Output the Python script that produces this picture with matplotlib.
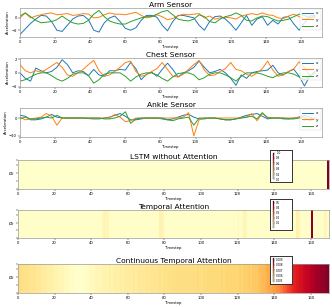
import matplotlib

matplotlib.use("Agg")
import matplotlib.pyplot as plt
import numpy as np

# sampled timesteps for the sensor traces
timesteps = [0, 3, 6, 9, 12, 15, 18, 21, 24, 27, 30, 33, 36, 39, 42, 45, 48, 51, 54,
             57, 60, 63, 66, 69, 72, 75, 78, 81, 84, 87, 90, 93, 96, 99, 102, 105, 108,
             111, 114, 117, 120, 123, 126, 129, 132, 135, 138, 141, 144, 147, 150, 153,
             156, 159, 162, 165, 168]

arm_x = [-2.7, -1.8, -0.9, -0.2, 0.4, 0.3, -0.6, -2.0, -2.2, -1.2, -0.2, 0.3, 0.4, -0.3,
         -2.0, -2.3, -0.8, 0.0, 0.3, -0.6, -1.7, -2.0, -1.6, -0.4, 0.4, 0.4, 0.1, -1.2,
         -2.1, -0.6, 0.4, 0.4, 0.2, 0.0, -1.2, -2.0, -0.6, 0.2, 0.3, -0.2, -1.0, -2.0,
         -0.8, 0.4, -1.2, -0.2, 0.2, -1.2, -0.4, -1.0, 0.1, 0.2, -1.0, -2.0, -0.8, 0.3, 0.4]
arm_y = [0.0, 0.8, 0.0, 0.3, 0.5, 0.7, 0.8, 0.5, 0.6, 0.7, 0.4, 0.5, 0.7, 0.6, 0.0, 0.1,
         0.5, 0.8, 0.6, 0.6, 0.5, 0.7, 0.9, 0.4, 0.0, 0.2, 0.5, 0.2, -0.3, -0.1, 0.3, 0.6,
         0.5, 0.6, 0.7, 0.0, 0.3, -0.2, 0.0, 0.1, 0.0, -0.2, 0.3, 0.5, 0.7, 0.5, 0.8, 0.5,
         0.4, 0.0, -0.1, 0.3, 0.6, 0.2, -0.2, 0.0, 0.2]
arm_z = [0.3, 0.8, 0.2, -0.4, -0.8, -0.7, -0.6, -0.3, 0.3, -0.3, -0.8, -1.0, -0.9, -0.4,
         0.6, 1.2, 0.2, -0.5, -0.8, -1.0, -1.0, -0.6, -0.3, 0.0, 0.2, 0.2, 0.6, 1.0, 1.2,
         0.5, -0.2, -0.4, -0.5, -0.2, 0.5, 0.2, -0.6, -0.8, -0.2, 0.2, 0.4, 0.8, 0.4, -0.4,
         -0.5, 0.0, 0.3, 0.2, -0.2, -0.5, -0.4, -0.2, 0.2, 0.6, 0.4, 0.0, 0.2]

chest_x = [0.0, -0.8, -1.2, 0.7, 0.3, 0.0, 0.2, 0.8, 1.9, 1.2, 0.0, 0.3, 0.2, -0.4, 0.5,
           -0.3, -0.5, 0.3, 0.3, 0.5, 0.4, 1.5, 0.6, -1.0, -0.2, 0.1, -0.5, 0.5, 1.4, 0.5,
           -0.6, 0.0, 0.3, 0.8, 1.7, 0.8, 0.0, 0.2, 0.5, 0.0, -0.8, -1.8, -0.3, -0.8, 0.0,
           0.2, 0.3, 0.4, 1.1, 0.0, -0.3, 0.2, 0.5, -0.5, -1.9, -0.5, 0.2]
chest_y = [1.2, 0.3, 0.0, 0.3, 0.1, 0.5, 1.0, 1.5, 0.8, -0.3, -0.5, 0.0, 0.5, 1.2, 1.8,
           0.3, -0.5, -0.3, 0.2, 0.8, 1.5, 1.7, 0.2, -0.5, -0.3, 0.2, 0.6, 1.5, 0.5, -0.5,
           -0.6, -0.2, 0.5, 1.2, 1.8, 0.4, -0.4, -0.3, 0.2, 0.6, 1.5, 0.5, 0.3, -0.2, -0.5,
           0.0, 0.6, 1.7, 0.4, -0.5, -0.3, 0.2, 0.6, 1.6, 0.8, -0.4, 0.0]
chest_z = [-1.2, -1.0, -0.6, -0.2, 0.0, 0.0, -0.4, -0.9, -1.2, -0.8, -0.2, 0.0, 0.0, -0.4,
           -1.5, -1.0, -0.2, 0.0, 0.0, 0.0, -0.5, -1.2, -0.6, -0.2, 0.0, 0.0, -0.3, -0.8,
           -1.2, -0.6, -0.1, 0.0, 0.0, -0.3, -1.0, -0.7, -0.2, 0.0, 0.0, -0.3, -0.7, -1.2,
           -0.5, 0.0, 0.0, 0.0, -0.2, -0.5, -0.7, -0.3, 0.0, 0.0, -0.2, -0.6, -1.0, -0.4, 0.0]

ankle_x = [1.5, 1.0, -1.0, -1.0, -0.5, 0.5, 2.0, 0.5, 0.0, 0.0, 0.0, 0.0, 0.0, -0.3, -0.5,
           -0.5, 0.0, 0.5, 1.5, 2.5, 1.0, -1.0, -1.0, -0.5, 0.0, 0.0, 0.0, -0.5, -1.0, -0.5,
           0.5, 1.5, 2.0, 0.5, -0.5, -0.5, 0.0, 0.0, -0.5, -1.0, -1.0, -0.5, 0.5, 1.5, 2.0,
           2.5, 1.0, -0.5, 0.0, 0.0, -0.5, -0.5, 0.0, 0.5, 1.5, 0.5, -0.5]
ankle_y = [0.5, -1.0, -0.5, 0.0, 0.5, 2.5, 1.0, -4.0, 0.0, 0.0, 0.0, 0.0, 0.0, 0.0, 0.0,
           0.0, 0.0, 0.0, 2.0, 0.5, -2.0, -1.5, 0.0, 0.0, 0.0, 0.0, 0.0, 0.0, 0.0, 0.0, 0.0,
           0.5, 3.0, -10.0, -1.0, 0.0, 0.0, 0.0, 0.0, 0.0, 0.0, 0.0, 0.0, 0.5, 2.5, -1.5,
           2.5, 0.5, 0.0, 0.0, 0.0, 0.0, 0.0, 0.5, -1.5, -0.5, 0.0]
ankle_z = [-0.5, 0.5, -0.5, -0.5, 0.0, 0.5, 0.0, 1.5, 0.0, 0.0, 0.0, 0.0, 0.0, 0.0, 0.0,
           0.0, -0.5, -0.5, 0.0, 1.0, 3.5, -3.0, -0.5, 0.0, 0.0, 0.0, 0.0, 0.0, -1.0, -1.5,
           -0.5, 0.0, 0.5, -4.0, 0.0, 0.0, 0.0, 0.0, -0.5, -1.0, -1.0, -0.5, 0.0, 0.5, 1.0,
           -0.5, 3.0, 0.0, 0.0, 0.0, 0.0, -0.5, -0.5, 0.0, 0.5, -1.5, -0.5]

num_steps = 170

# LSTM without attention: all weight on the final step
lstm_peak_step = 169
lstm_peak_value = 1.0

# temporal attention: near-zero baseline with a few stripes
temporal_baseline = 0.005
temporal_steps = [46, 47, 48, 49, 77, 78, 79, 120, 123, 124, 152, 153, 160, 167, 168]
temporal_values = [0.03, 0.04, 0.03, 0.04, 0.05, 0.04, 0.03, 0.03, 0.04, 0.03, 0.05,
                   0.04, 0.52, 0.04, 0.03]

continuous_weights = [
    0.0057, 0.0057, 0.0056, 0.0056, 0.0056, 0.0056, 0.0055, 0.0055, 0.0055, 0.0055,
    0.0054, 0.0054, 0.0054, 0.0053, 0.0053, 0.0053, 0.0052, 0.0052, 0.0052, 0.0051,
    0.0051, 0.0051, 0.0050, 0.0050, 0.0050, 0.0049, 0.0049, 0.0049, 0.0048, 0.0048,
    0.0048, 0.0047, 0.0047, 0.0047, 0.0047, 0.0047, 0.0048, 0.0048, 0.0048, 0.0049,
    0.0049, 0.0049, 0.0050, 0.0050, 0.0050, 0.0050, 0.0051, 0.0051, 0.0051, 0.0051,
    0.0052, 0.0051, 0.0052, 0.0052, 0.0052, 0.0052, 0.0053, 0.0052, 0.0053, 0.0053,
    0.0053, 0.0053, 0.0053, 0.0054, 0.0053, 0.0054, 0.0054, 0.0054, 0.0054, 0.0054,
    0.0055, 0.0054, 0.0055, 0.0055, 0.0055, 0.0055, 0.0055, 0.0056, 0.0055, 0.0056,
    0.0056, 0.0056, 0.0056, 0.0056, 0.0057, 0.0056, 0.0057, 0.0057, 0.0057, 0.0057,
    0.0057, 0.0057, 0.0057, 0.0057, 0.0057, 0.0057, 0.0057, 0.0057, 0.0058, 0.0057,
    0.0057, 0.0058, 0.0057, 0.0058, 0.0058, 0.0058, 0.0058, 0.0058, 0.0058, 0.0058,
    0.0058, 0.0059, 0.0058, 0.0059, 0.0059, 0.0059, 0.0059, 0.0059, 0.0059, 0.0059,
    0.0059, 0.0060, 0.0059, 0.0060, 0.0060, 0.0060, 0.0061, 0.0060, 0.0061, 0.0061,
    0.0061, 0.0062, 0.0062, 0.0063, 0.0063, 0.0064, 0.0065, 0.0066, 0.0066, 0.0067,
    0.0068, 0.0069, 0.0070, 0.0071, 0.0072, 0.0074, 0.0075, 0.0077, 0.0078, 0.0079,
    0.0080, 0.0081, 0.0082, 0.0083, 0.0084, 0.0084, 0.0085, 0.0086, 0.0086, 0.0087,
    0.0088, 0.0088, 0.0089, 0.0090, 0.0090, 0.0091, 0.0091, 0.0092, 0.0092, 0.0093,
]

lstm_ticks = [0.0, 0.2, 0.4, 0.6, 0.8, 1.0]
temporal_ticks = [0.1, 0.2, 0.3, 0.4, 0.5]
continuous_ticks = [0.005, 0.006, 0.007, 0.008, 0.009]

TITLE_FS = 5.4
SMALL_FS = 2.7
SPINE_COLOR = "#9a9a9a"


def style_axes(ax):
    for spine in ax.spines.values():
        spine.set_color(SPINE_COLOR)
        spine.set_linewidth(0.5)
    ax.tick_params(labelsize=SMALL_FS, length=1.2, width=0.3, pad=1)


def plot_sensor(ax, title, series, ylim, yticks):
    for values, label in zip(series, ["x", "y", "z"]):
        ax.plot(timesteps, values, label=label, linewidth=0.7)
    ax.set_xlim(0, 172)
    ax.set_ylim(*ylim)
    ax.set_yticks(yticks)
    ax.set_xticks(range(0, 161, 20))
    ax.set_title(title, fontsize=TITLE_FS, pad=1.0)
    ax.set_xlabel("Timestep", fontsize=SMALL_FS, labelpad=1)
    ax.set_ylabel("Acceleration", fontsize=SMALL_FS, labelpad=1)
    style_axes(ax)
    leg = ax.legend(loc="upper right", fontsize=3.0, handlelength=2.6,
                    borderpad=0.5, labelspacing=0.6, borderaxespad=0.3)
    leg.get_frame().set_linewidth(0.3)


def plot_heat(fig, rect, box_rect, title, weights, vmin, vmax, ticks, fmt):
    ax = fig.add_axes(rect)
    data = np.asarray(weights, dtype=float)[None, :]
    im = ax.pcolormesh(np.arange(num_steps + 1), [0, 1], data, cmap="YlOrRd",
                       vmin=vmin, vmax=vmax)
    ax.set_xlim(0, num_steps)
    ax.set_ylim(0, 1)
    ax.set_xticks(range(0, 161, 20))
    ax.set_yticks([0.0, 0.27, 0.55, 0.83, 1.0])
    ax.set_yticklabels(["", "", r"$\alpha_t$", "", ""])
    ax.set_title(title, fontsize=TITLE_FS, pad=1.0)
    ax.set_xlabel("Timestep", fontsize=SMALL_FS, labelpad=1)
    style_axes(ax)
    ax.tick_params(axis="y", labelsize=3.4)

    box = fig.add_axes(box_rect)
    box.set_facecolor("white")
    box.set_xticks([])
    box.set_yticks([])
    for spine in box.spines.values():
        spine.set_color("#333333")
        spine.set_linewidth(0.7)
    bx, by, bw, bh = box_rect
    cax = fig.add_axes([bx + bw * 0.12, by + bh * 0.08, bw * 0.08, bh * 0.84])
    cb = fig.colorbar(im, cax=cax, ticks=ticks, format=fmt)
    cb.outline.set_linewidth(0.2)
    cb.ax.tick_params(labelsize=2.0, length=0.8, width=0.2, pad=0.6)


def main() -> None:
    fig = plt.figure(figsize=(3.32, 3.07), dpi=100)
    W, H = 332.0, 307.0

    def rect(left, top, right, bottom):
        return [left / W, 1 - bottom / H, (right - left) / W, (bottom - top) / H]

    ax_arm = fig.add_axes(rect(20, 8, 322, 37))
    plot_sensor(ax_arm, "Arm Sensor", [arm_x, arm_y, arm_z], (-3.1, 1.6), [-2, 0])
    ax_chest = fig.add_axes(rect(20, 58, 322, 87))
    plot_sensor(ax_chest, "Chest Sensor", [chest_x, chest_y, chest_z], (-2.05, 2.15), [-2, 0, 2])
    ax_ankle = fig.add_axes(rect(20, 108, 322, 137))
    plot_sensor(ax_ankle, "Ankle Sensor", [ankle_x, ankle_y, ankle_z], (-10.6, 5.6), [-10, 0])

    lstm = np.zeros(num_steps)
    lstm[lstm_peak_step] = lstm_peak_value
    plot_heat(fig, rect(18, 160, 329, 189), rect(270, 150, 292, 182),
              "LSTM without Attention", lstm, 0.0, 1.0, lstm_ticks, "%.1f")

    temporal = np.full(num_steps, temporal_baseline)
    temporal[temporal_steps] = temporal_values
    plot_heat(fig, rect(18, 210, 329, 238), rect(270, 199, 292, 230),
              "Temporal Attention", temporal, 0.0, 0.53, temporal_ticks, "%.1f")

    plot_heat(fig, rect(18, 264, 329, 293), rect(270, 256, 292, 284),
              "Continuous Temporal Attention", continuous_weights, 0.0047, 0.0093,
              continuous_ticks, "%.3f")

    fig.savefig("out.png", dpi=100)
    plt.close(fig)


if __name__ == "__main__":
    main()
